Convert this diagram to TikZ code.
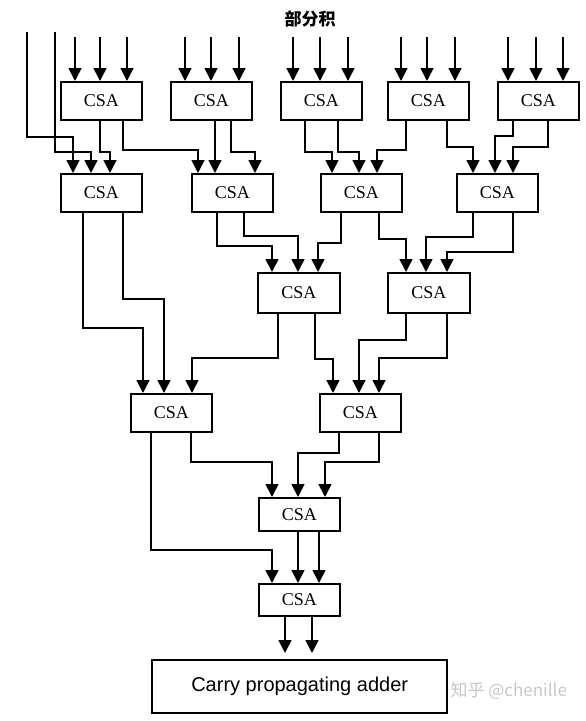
\documentclass[tikz,border=0pt]{standalone}
\usepackage{fontspec}
\setmainfont{Liberation Serif}
\newfontfamily\cjk{Noto Sans CJK SC}
\newfontfamily\sans{Liberation Sans}
\usetikzlibrary{arrows.meta,calc}
\tikzset{
  csa/.style={draw, line width=1.6pt, anchor=north west, inner sep=0pt,
    minimum width=81pt, minimum height=38pt, font=\fontsize{18}{18}\selectfont},
  arr/.style={line width=1.6pt, -{Triangle[length=13pt,width=13pt]}},
}
% \route{from}{offset}{mid y}{to}{offset}
\newcommand\route[5]{%
  \draw[arr] let \p1=([xshift=#2]#1.south west), \p2=([xshift=#5]#4.north west) in
    (\p1) -- (\x1,#3) -- (\x2,#3) -- (\p2);}
\newcommand\inarrows[4]{%
  \foreach \o in {#2,#3,#4}{\draw[arr] ([xshift=\o,yshift=44]#1.north west) -- ([xshift=\o]#1.north west);}}
\begin{document}
\begin{tikzpicture}[x=1pt,y=1pt]
\useasboundingbox (0,0) rectangle (586,-721);
\node[font=\cjk\bfseries\fontsize{17}{17}\selectfont] (title) at (310,-19) {部分积};
% row A
\node[csa] (A1) at (60,-81) {CSA};
\node[csa] (A2) at (170,-81) {CSA};
\node[csa] (A3) at (280,-81) {CSA};
\node[csa] (A4) at (387,-81) {CSA};
\node[csa] (A5) at (497,-81) {CSA};
% row B
\node[csa] (B1) at (60,-173) {CSA};
\node[csa] (B2) at (191,-173) {CSA};
\node[csa] (B3) at (320,-173) {CSA};
\node[csa] (B4) at (456,-173) {CSA};
% row C
\node[csa, minimum width=82pt, minimum height=40pt] (C1) at (257,-272) {CSA};
\node[csa, minimum width=82pt, minimum height=40pt] (C2) at (387,-272) {CSA};
% row D
\node[csa] (D1) at (130,-393) {CSA};
\node[csa] (D2) at (319,-393) {CSA};
% E, F
\node[csa, minimum height=33pt] (E) at (258,-497) {CSA};
\node[csa, minimum height=32pt] (F) at (258,-583) {CSA};
% CPA
\node[draw, line width=2.4pt, anchor=north west, inner sep=0pt, minimum width=295pt, minimum height=53pt,
  font=\sans\fontsize{20}{20}\selectfont] (CPA) at (151,-659) {Carry propagating adder};
% watermark
\node[anchor=west, text=black!22, font=\cjk\fontsize{17}{17}\selectfont] (wm) at (447,-691) {知乎 @chenille};

% input arrows
\inarrows{A1}{15}{40}{67}
\inarrows{A2}{15}{41}{69}
\inarrows{A3}{13}{40}{68}
\inarrows{A4}{14}{40}{68}
\inarrows{A5}{11}{39}{66}

% left lines
\coordinate (L1) at (27,-32);
\coordinate (L2) at (55,-32);
\draw[arr] let \p2=([xshift=13]B1.north west) in (L1) -- (27,-137) -- (\x2,-137) -- (\p2);
\draw[arr] let \p2=([xshift=31]B1.north west) in (L2) -- (55,-152) -- (\x2,-152) -- (\p2);

% A -> B
\route{A1}{40}{-152}{B1}{50}
\route{A1}{63}{-150}{B2}{7}
\route{A2}{45}{-152}{B2}{24}
\route{A2}{61}{-152}{B2}{64}
\route{A3}{25}{-152}{B3}{12}
\route{A3}{58}{-152}{B3}{39}
\route{A4}{19}{-150}{B3}{57}
\route{A4}{60}{-147}{B4}{17}
\route{A5}{16}{-136}{B4}{39}
\route{A5}{51}{-147}{B4}{57}

% B -> C / D
\route{B1}{23}{-328}{D1}{13}
\route{B1}{63}{-299}{D1}{34}
\route{B2}{26}{-246}{C1}{15}
\route{B2}{53}{-236}{C1}{41}
\route{B3}{21}{-243}{C1}{61}
\route{B3}{59}{-239}{C2}{19}
\route{B4}{17}{-237}{C2}{39}
\route{B4}{57}{-252}{C2}{60}

% C -> D
\route{C1}{21}{-358}{D1}{62}
\route{C1}{58}{-359}{D2}{14}
\route{C2}{19}{-340}{D2}{40}
\route{C2}{60}{-358}{D2}{60}

% D -> E / F
\route{D1}{21}{-550}{F}{14}
\route{D1}{61}{-462}{E}{14}
\route{D2}{20}{-453}{E}{40}
\route{D2}{60}{-462}{E}{67}

% E -> F
\route{E}{40}{-560}{F}{40}
\route{E}{61}{-560}{F}{61}

% F -> CPA
\draw[arr] ([xshift=27]F.south west) -- ([xshift=27,yshift=6]F.south west |- CPA.north);
\draw[arr] ([xshift=54]F.south west) -- ([xshift=54,yshift=6]F.south west |- CPA.north);
\end{tikzpicture}
\end{document}
